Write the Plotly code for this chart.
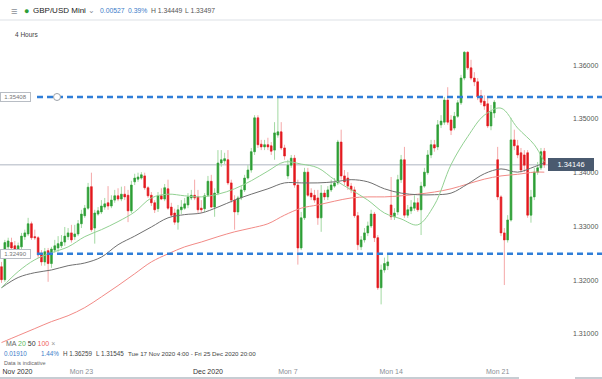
import plotly.graph_objects as go

# ---------------- data (4-hour GBP/USD candles) ----------------
bar_index = list(range(164))

opens = [1.3225,1.3201,1.3262,1.3270,1.3264,1.3256,1.3262,1.3281,1.3286,1.3305,
         1.3281,1.3279,1.3247,1.3234,1.3255,1.3231,1.3256,1.3260,1.3264,1.3271,
         1.3281,1.3288,1.3281,1.3286,1.3305,1.3320,1.3334,1.3374,1.3297,1.3323,
         1.3327,1.3336,1.3344,1.3338,1.3349,1.3357,1.3351,1.3360,1.3358,1.3329,
         1.3383,1.3388,1.3390,1.3394,1.3372,1.3358,1.3344,1.3333,1.3357,1.3351,
         1.3370,1.3336,1.3325,1.3308,1.3331,1.3334,1.3340,1.3353,1.3358,1.3355,
         1.3334,1.3333,1.3358,1.3384,1.3336,1.3362,1.3418,1.3422,1.3424,1.3381,
         1.3349,1.3327,1.3353,1.3368,1.3390,1.3405,1.3439,1.3502,1.3453,1.3448,
         1.3452,1.3450,1.3442,1.3470,1.3476,1.3446,1.3394,1.3414,1.3427,1.3377,
         1.3260,1.3316,1.3401,1.3362,1.3358,1.3353,1.3316,1.3362,1.3355,1.3368,
         1.3375,1.3381,1.3457,1.3394,1.3390,1.3375,1.3368,1.3320,1.3262,1.3275,
         1.3288,1.3301,1.3323,1.3279,1.3186,1.3219,1.3227,1.3340,1.3318,1.3327,
         1.3387,1.3424,1.3321,1.3329,1.3334,1.3344,1.3331,1.3375,1.3400,1.3433,
         1.3452,1.3448,1.3489,1.3494,1.3535,1.3498,1.3483,1.3505,1.3530,1.3576,
         1.3624,1.3595,1.3576,1.3569,1.3543,1.3533,1.3528,1.3487,1.3511,1.3424,
         1.3355,1.3288,1.3275,1.3312,1.3461,1.3450,1.3437,1.3433,1.3437,1.3321,
         1.3355,1.3401,1.3409,1.3440]
highs = [1.3234,1.3275,1.3279,1.3279,1.3273,1.3270,1.3288,1.3294,1.3316,1.3309,
         1.3294,1.3282,1.3256,1.3260,1.3260,1.3262,1.3275,1.3282,1.3284,1.3299,
         1.3297,1.3303,1.3303,1.3312,1.3331,1.3340,1.3381,1.3400,1.3331,1.3336,
         1.3349,1.3353,1.3375,1.3358,1.3368,1.3371,1.3374,1.3375,1.3368,1.3385,
         1.3398,1.3400,1.3401,1.3400,1.3375,1.3364,1.3349,1.3364,1.3371,1.3379,
         1.3387,1.3344,1.3333,1.3340,1.3349,1.3353,1.3362,1.3368,1.3387,1.3368,
         1.3349,1.3362,1.3394,1.3396,1.3371,1.3442,1.3442,1.3437,1.3442,1.3387,
         1.3358,1.3357,1.3375,1.3396,1.3414,1.3446,1.3507,1.3507,1.3461,1.3461,
         1.3465,1.3457,1.3494,1.3541,1.3494,1.3452,1.3424,1.3433,1.3433,1.3387,
         1.3327,1.3409,1.3409,1.3371,1.3368,1.3368,1.3377,1.3368,1.3375,1.3387,
         1.3390,1.3461,1.3480,1.3405,1.3401,1.3381,1.3374,1.3327,1.3282,1.3297,
         1.3309,1.3331,1.3327,1.3284,1.3229,1.3242,1.3247,1.3392,1.3334,1.3396,
         1.3433,1.3448,1.3340,1.3349,1.3358,1.3353,1.3383,1.3409,1.3442,1.3461,
         1.3461,1.3498,1.3507,1.3541,1.3559,1.3507,1.3513,1.3535,1.3582,1.3626,
         1.3626,1.3610,1.3587,1.3576,1.3554,1.3544,1.3539,1.3526,1.3535,1.3448,
         1.3358,1.3297,1.3321,1.3502,1.3480,1.3461,1.3446,1.3442,1.3442,1.3368,
         1.3409,1.3420,1.3446,1.3446]
lows = [1.3195,1.3197,1.3256,1.3253,1.3247,1.3251,1.3258,1.3275,1.3282,1.3275,
        1.3275,1.3241,1.3227,1.3227,1.3197,1.3223,1.3251,1.3253,1.3260,1.3264,
        1.3275,1.3270,1.3275,1.3282,1.3297,1.3316,1.3331,1.3290,1.3268,1.3320,
        1.3323,1.3331,1.3331,1.3334,1.3344,1.3347,1.3347,1.3349,1.3308,1.3325,
        1.3377,1.3383,1.3387,1.3368,1.3353,1.3338,1.3325,1.3327,1.3349,1.3347,
        1.3331,1.3318,1.3303,1.3294,1.3323,1.3331,1.3334,1.3349,1.3349,1.3325,
        1.3325,1.3327,1.3355,1.3334,1.3318,1.3358,1.3411,1.3416,1.3377,1.3344,
        1.3294,1.3321,1.3349,1.3364,1.3387,1.3400,1.3433,1.3446,1.3442,1.3442,
        1.3442,1.3433,1.3424,1.3465,1.3442,1.3424,1.3388,1.3409,1.3372,1.3229,
        1.3256,1.3312,1.3355,1.3349,1.3344,1.3303,1.3290,1.3349,1.3349,1.3364,
        1.3372,1.3377,1.3387,1.3377,1.3368,1.3362,1.3316,1.3256,1.3256,1.3270,
        1.3282,1.3297,1.3271,1.3182,1.3155,1.3214,1.3219,1.3312,1.3312,1.3321,
        1.3381,1.3316,1.3316,1.3323,1.3329,1.3327,1.3284,1.3372,1.3396,1.3427,
        1.3439,1.3442,1.3483,1.3489,1.3489,1.3470,1.3479,1.3502,1.3526,1.3572,
        1.3591,1.3572,1.3561,1.3535,1.3526,1.3517,1.3483,1.3479,1.3502,1.3349,
        1.3282,1.3191,1.3270,1.3309,1.3442,1.3427,1.3400,1.3401,1.3316,1.3307,
        1.3349,1.3396,1.3405,1.3409]
closes = [1.3201,1.3270,1.3273,1.3260,1.3256,1.3264,1.3282,1.3288,1.3305,1.3279,
          1.3279,1.3247,1.3234,1.3253,1.3231,1.3258,1.3264,1.3268,1.3271,1.3282,
          1.3288,1.3275,1.3286,1.3305,1.3323,1.3334,1.3373,1.3294,1.3325,1.3329,
          1.3338,1.3342,1.3338,1.3349,1.3357,1.3351,1.3360,1.3355,1.3329,1.3377,
          1.3390,1.3392,1.3396,1.3372,1.3357,1.3344,1.3331,1.3357,1.3351,1.3372,
          1.3334,1.3321,1.3308,1.3331,1.3336,1.3342,1.3355,1.3358,1.3353,1.3331,
          1.3331,1.3357,1.3384,1.3336,1.3362,1.3418,1.3424,1.3426,1.3381,1.3349,
          1.3327,1.3353,1.3368,1.3390,1.3405,1.3439,1.3502,1.3452,1.3448,1.3452,
          1.3448,1.3440,1.3474,1.3476,1.3446,1.3431,1.3414,1.3427,1.3377,1.3260,
          1.3316,1.3401,1.3358,1.3355,1.3349,1.3316,1.3362,1.3355,1.3368,1.3377,
          1.3381,1.3457,1.3394,1.3383,1.3375,1.3368,1.3320,1.3266,1.3275,1.3288,
          1.3301,1.3323,1.3279,1.3186,1.3219,1.3231,1.3234,1.3318,1.3325,1.3387,
          1.3424,1.3321,1.3331,1.3336,1.3344,1.3331,1.3375,1.3401,1.3433,1.3452,
          1.3446,1.3489,1.3496,1.3535,1.3494,1.3479,1.3505,1.3530,1.3576,1.3624,
          1.3595,1.3576,1.3569,1.3541,1.3531,1.3524,1.3487,1.3513,1.3531,1.3355,
          1.3288,1.3275,1.3312,1.3461,1.3450,1.3433,1.3405,1.3414,1.3321,1.3355,
          1.3401,1.3409,1.3439,1.34146]

# moving averages every 5 bars
ma_index = [0,5,10,15,20,25,30,35,40,45,50,55,60,65,70,75,80,85,90,95,100,
            105,110,115,120,125,130,135,140,145,150,155,160,163]
ma20 = [1.3186,1.3216,1.3238,1.3251,1.3262,1.3281,1.3294,1.3309,1.3327,1.3353,
        1.3360,1.3357,1.3355,1.3360,1.3370,1.3385,1.3403,1.3420,1.3416,1.3409,
        1.3387,1.3368,1.3349,1.3325,1.3314,1.3303,1.3340,1.3415,1.3467,1.3507,
        1.3520,1.3483,1.3452,1.3420]
ma50 = [1.3186,1.3205,1.3214,1.3219,1.3227,1.3232,1.3243,1.3266,1.3282,1.3299,
        1.3316,1.3322,1.3325,1.3336,1.3349,1.3360,1.3370,1.3381,1.3381,1.3381,
        1.3383,1.3387,1.3383,1.3370,1.3362,1.3359,1.3359,1.3362,1.3379,1.3398,
        1.3407,1.3401,1.3411,1.3418]
ma100 = [1.3084,1.3097,1.3110,1.3123,1.3134,1.3149,1.3169,1.3190,1.3212,1.3234,
         1.3249,1.3262,1.3271,1.3281,1.3290,1.3297,1.3305,1.3321,1.3334,1.3340,
         1.3347,1.3353,1.3355,1.3355,1.3357,1.3360,1.3364,1.3370,1.3379,1.3388,
         1.3394,1.3397,1.3401,1.3401]

level_high = 1.35408
level_low = 1.32490
last_price = 1.34146

x_tick_vals = [4.8, 24, 62, 86, 117, 149]
x_tick_text = ["Nov 2020", "Mon 23", "Dec 2020", "Mon 7", "Mon 14", "Mon 21"]
y_tick_vals = [1.31, 1.32, 1.33, 1.34, 1.35, 1.36]
y_tick_text = ["1.31000", "1.32000", "1.33000", "1.34000", "1.35000", "1.36000"]

# ---------------- figure ----------------
W, H = 602, 379
ML, MR, MT, MB = 0, 34, 22, 13
PW, PH = W - ML - MR, H - MT - MB
STEP = 3.33  # pixels per bar


def px(xp):
    return (xp - ML) / PW


def py(yp):
    return (H - MB - yp) / PH


FONT = "Liberation Sans, Arial, sans-serif"
GREEN, RED = "#2e9e37", "#e3191f"
LGREEN, LRED = "#a3d9a3", "#f5a8a8"

body_hi = [max(o, c) for o, c in zip(opens, closes)]
body_lo = [min(o, c) for o, c in zip(opens, closes)]

fig = go.Figure()
# wicks (light)
fig.add_trace(go.Candlestick(
    x=bar_index, open=opens, high=highs, low=lows, close=closes,
    increasing=dict(line=dict(color=LGREEN, width=1), fillcolor=LGREEN),
    decreasing=dict(line=dict(color=LRED, width=1), fillcolor=LRED),
    whiskerwidth=0, showlegend=False, hoverinfo="skip"))
# bodies (strong)
fig.add_trace(go.Candlestick(
    x=bar_index, open=opens, high=body_hi, low=body_lo, close=closes,
    increasing=dict(line=dict(color=GREEN, width=0.5), fillcolor=GREEN),
    decreasing=dict(line=dict(color=RED, width=0.5), fillcolor=RED),
    whiskerwidth=0, showlegend=False))

fig.add_trace(go.Scatter(x=ma_index, y=ma100, mode="lines", showlegend=False,
                         line=dict(color="#f28a86", width=1, shape="spline")))
fig.add_trace(go.Scatter(x=ma_index, y=ma50, mode="lines", showlegend=False,
                         line=dict(color="#707070", width=1, shape="spline")))
fig.add_trace(go.Scatter(x=ma_index, y=ma20, mode="lines", showlegend=False,
                         line=dict(color="#92d192", width=1, shape="spline")))

x_lo = -0.45
x_hi = x_lo + PW / STEP
y_lo, y_hi = 1.30404, 1.36803

shapes = [
    # current price line
    dict(type="line", xref="x", yref="y", x0=x_lo, x1=x_lo + 548 / STEP,
         y0=last_price, y1=last_price, line=dict(color="#c9ced6", width=1.5),
         layer="below"),
    # support / resistance dashed lines
    dict(type="line", xref="paper", yref="y", x0=px(37), x1=px(602),
         y0=level_high, y1=level_high,
         line=dict(color="#2f7ed8", width=2.5, dash="6px,4px")),
    dict(type="line", xref="paper", yref="y", x0=px(37), x1=px(602),
         y0=level_low, y1=level_low,
         line=dict(color="#2f7ed8", width=2.5, dash="6px,4px")),
    # handle circle
    dict(type="circle", xref="x", yref="y", xsizemode="pixel", ysizemode="pixel",
         xanchor=x_lo + 57 / STEP, yanchor=level_high, x0=-3.5, x1=3.5, y0=-3.5, y1=3.5,
         fillcolor="white", line=dict(color="#9aa0a8", width=1)),
    # header separator
    dict(type="line", xref="paper", yref="paper", x0=0, x1=px(602),
         y0=py(20), y1=py(20), line=dict(color="#dde1e6", width=1)),
    # bottom axis / scroll line
    dict(type="line", xref="paper", yref="paper", x0=0, x1=px(519),
         y0=py(378), y1=py(378), line=dict(color="#b5bcc5", width=1.5)),
    dict(type="line", xref="paper", yref="paper", x0=px(575), x1=px(602),
         y0=py(378), y1=py(378), line=dict(color="#b5bcc5", width=1.5)),
]

ann = []


def text(xp, yp, s, size, color="#444", anchor="left"):
    ann.append(dict(xref="paper", yref="paper", x=px(xp), y=py(yp), text=s,
                    showarrow=False, xanchor=anchor, yanchor="middle",
                    font=dict(size=size, color=color, family=FONT)))


text(9, 11, "≡", 11, "#8a8f96")
text(22, 11, "●", 9, "#2e9e37")
text(31, 11, "GBP/USD Mini", 8, "#222")
text(86, 11, "⌄", 8, "#8a8f96")
text(98, 11, "0.00527", 6.8, "#3d7cc9")
text(126, 11, "0.39%", 6.8, "#3d7cc9")
text(149, 11, "H 1.34449", 6.8, "#555")
text(183, 11, "L 1.33497", 6.8, "#555")
text(13, 35, "4 Hours", 6.5, "#444")

text(4, 343,
     "MA <span style='color:#5cb85c'>20</span> <span style='color:#333'>50</span> "
     "<span style='color:#f0625f'>100</span> <span style='color:#999'>×</span>",
     7, "#666")
text(2, 353, "0.01910", 6.3, "#3d7cc9")
text(39, 353, "1.44%", 6.3, "#3d7cc9")
text(61, 353, "H 1.36259", 6.3, "#444")
text(94, 353, "L 1.31545", 6.3, "#444")
text(126, 353, "Tue 17 Nov 2020 4:00 - Fri 25 Dec 2020 20:00", 6.2, "#444")
text(2, 363, "Data is indicative", 5.5, "#666")

# price tags
for lvl, lab in [(level_high, "1.35408"), (level_low, "1.32490")]:
    ann.append(dict(xref="paper", yref="y", x=0, y=lvl, text=lab, showarrow=False,
                    xanchor="left", yanchor="middle", width=29, height=8,
                    bgcolor="white", bordercolor="#b8bdc4", borderwidth=1, borderpad=0,
                    font=dict(size=6, color="#777", family=FONT)))
ann.append(dict(xref="paper", yref="y", x=px(548), y=last_price, text="1.34146",
                showarrow=False, xanchor="left", yanchor="middle", width=44, height=11,
                bgcolor="#4a5a6f", bordercolor="#4a5a6f", borderwidth=1, borderpad=0,
                font=dict(size=7.5, color="white", family=FONT)))

x_tick_html = []
for t in x_tick_text:
    if t.startswith("Mon"):
        x_tick_html.append(f"<span style='color:#8a8f96'>{t}</span>")
    else:
        x_tick_html.append(f"<span style='color:#333'>{t}</span>")

fig.update_layout(
    width=W, height=H,
    margin=dict(l=ML, r=MR, t=MT, b=MB, autoexpand=False),
    paper_bgcolor="white", plot_bgcolor="white",
    font=dict(family=FONT, size=7, color="#555"),
    showlegend=False,
    shapes=shapes, annotations=ann,
    xaxis=dict(range=[x_lo, x_hi], rangeslider=dict(visible=False),
               showgrid=False, zeroline=False, showline=False, ticks="",
               tickvals=x_tick_vals, ticktext=x_tick_html,
               tickfont=dict(size=7, family=FONT), automargin=False),
    yaxis=dict(range=[y_lo, y_hi], side="right", showgrid=False, zeroline=False,
               showline=False, ticks="", tickvals=y_tick_vals, ticktext=y_tick_text,
               tickfont=dict(size=7, color="#555", family=FONT), automargin=False,
               ticklabelstandoff=4),
)

fig.write_html("out.html",
               config={"displayModeBar": False},
               post_script="document.body.style.margin='0px';"
                           "document.body.style.overflow='hidden';")
